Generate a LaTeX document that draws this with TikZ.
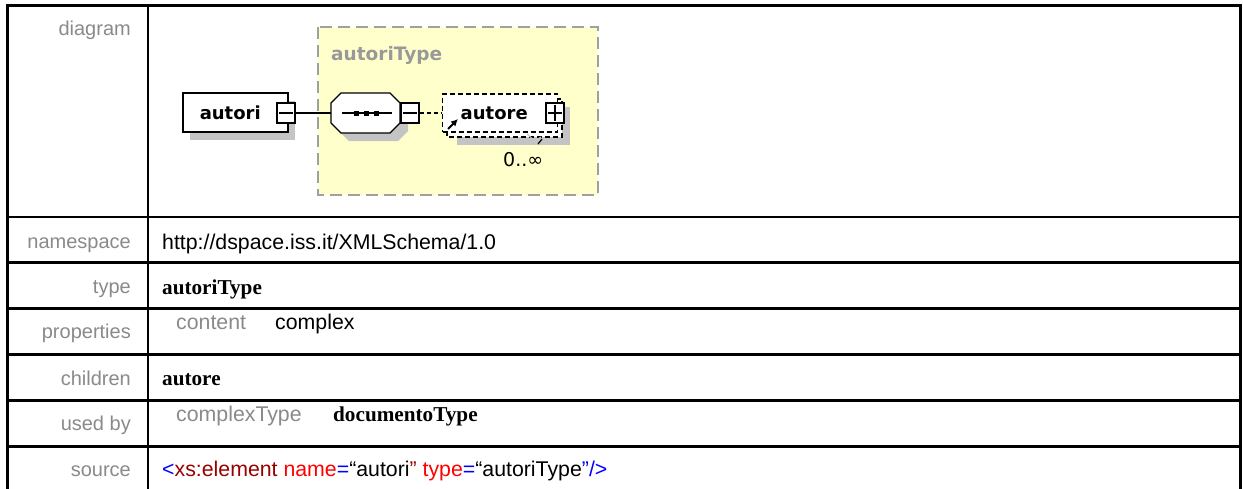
\documentclass[tikz,border=0pt]{standalone}
\usepackage{fontspec}
\setmainfont{Liberation Sans}
\newfontfamily\serifface{Liberation Serif}
\newfontfamily\dvface{DejaVu Sans}
\usetikzlibrary{arrows.meta}

\definecolor{labelgray}{HTML}{8A8A8A}
\definecolor{typegray}{HTML}{999999}
\definecolor{typeyellow}{HTML}{FFFFCC}
\definecolor{dashgray}{HTML}{A0A0A0}
\definecolor{shadowgray}{HTML}{C4C4C4}
\definecolor{srcblue}{HTML}{0000FF}
\definecolor{srcdark}{HTML}{990000}
\definecolor{srcred}{HTML}{FF0000}

\tikzset{
  tbl/.style={line width=2.5pt, line cap=rect},
  lbl/.style={anchor=base east, inner sep=0pt, text=labelgray, font=\fontsize{20}{24}\selectfont},
  val/.style={anchor=base west, inner sep=0pt, font=\fontsize{21.3}{25}\selectfont},
  bval/.style={anchor=base west, inner sep=0pt, font=\serifface\bfseries\fontsize{21.2}{25}\selectfont},
  pval/.style={anchor=base west, inner sep=0pt, text=labelgray, font=\fontsize{21.3}{25}\selectfont},
  elem/.style={draw, fill=white, line width=1.5pt, anchor=west, inner xsep=0pt, inner ysep=0pt,
    align=left, font=\dvface\bfseries\fontsize{18}{20}\selectfont},
  pmbox/.style={draw, fill=white, line width=1.4pt, minimum width=18pt, minimum height=20pt, inner sep=0pt},
  shadow/.style={fill=shadowgray, draw=none},
  conn/.style={line width=1.4pt},
  dconn/.style={line width=1.4pt, dash pattern=on 4pt off 3pt},
  dbox/.style={draw, fill=white, line width=1.4pt, dash pattern=on 5pt off 3pt}
}

\begin{document}
\begin{tikzpicture}[x=1pt, y=-1pt]
\useasboundingbox (0,0) rectangle (1243,488);
\fill[white] (0,0) rectangle (1243,488);

% ---- table frame ----
\draw[tbl] (7.5,488) -- (7.5,5.5) -- (1240.5,5.5) -- (1240.5,488);
\draw[tbl] (148,5.5) -- (148,488);
\foreach \yy in {217,262.5,308.5,354.5,400.5,446.5}
  \draw[tbl] (7.5,\yy) -- (1240.5,\yy);

% ---- row labels ----
\node[lbl] (l-diagram)    at (131,35)  {diagram};
\node[lbl] (l-namespace)  at (131,248) {namespace};
\node[lbl] (l-type)       at (131,293) {type};
\node[lbl] (l-properties) at (131,338) {properties};
\node[lbl] (l-children)   at (131,385) {children};
\node[lbl] (l-usedby)     at (131,430) {used by};
\node[lbl] (l-source)     at (131,476) {source};

% ---- row values ----
\node[val]  (v-namespace) at (162,249) {http://dspace.iss.it/XMLSchema/1.0};
\node[bval] (v-type)      at (162,294) {autoriType};
\node[pval] (v-content)   at (176,329) {content};
\node[val]  (v-complex)   at (275,329) {complex};
\node[bval] (v-children)  at (162,385) {autore};
\node[pval] (v-ctype)     at (176,421) {complexType};
\node[bval] (v-usedby)    at (333,421) {documentoType};
\node[val]  (v-source)    at (162,476) {\textcolor{srcblue}{<}\textcolor{srcdark}{xs:element} \textcolor{srcred}{name}\textcolor{srcblue}{=}“autori\textcolor{srcdark}{”} \textcolor{srcred}{type}\textcolor{srcblue}{=}“autoriType\textcolor{srcblue}{”/>}};

% ---- complex type area ----
\draw[fill=typeyellow, draw=dashgray, line width=2pt, dash pattern=on 12pt off 6pt]
  (318,27) rectangle (598,195);
\node[anchor=base west, inner sep=0pt, text=typegray, font=\dvface\bfseries\fontsize{18.5}{20}\selectfont]
  (typename) at (331,60) {autoriType};

% ---- element autori ----
\fill[shadow] (190,101) rectangle (295,140);
\node[elem, text width=105pt, minimum height=39pt] (autori) at (182,112.5) {\hspace*{17pt}autori};
\node[pmbox] (autori-m) at (286,113) {};
\draw[conn] ([xshift=3pt]autori-m.west) -- ([xshift=-3pt]autori-m.east);

% ---- sequence compositor ----
\fill[shadow] (349,101) -- (398,101) -- (408,111) -- (408,131) -- (398,141) -- (349,141) -- (339,131) -- (339,111) -- cycle;
\draw[fill=white, line width=1.4pt] (341,93) -- (390,93) -- (400,103) -- (400,123) -- (390,133) -- (341,133) -- (331,123) -- (331,103) -- cycle;
\node[minimum width=69pt, minimum height=40pt, inner sep=0pt] (seq) at (365.5,113) {};
\draw[conn] (342,113) -- (392,113);
\foreach \dx in {356,366,376}
  \fill (\dx-2.5,110.5) rectangle (\dx+2.5,115.5);
\node[pmbox] (seq-m) at (410,113) {};
\draw[conn] ([xshift=3pt]seq-m.west) -- ([xshift=-3pt]seq-m.east);

\draw[conn] (autori-m.east) -- (seq.west);

% ---- element autore (0..unbounded) ----
\fill[shadow] (457,107) rectangle (570,145);
\draw[dbox] (447,99) rectangle (562,137);
\node[elem, dbox, text width=115pt, minimum height=38pt] (autore) at (442,113) {\hspace*{18pt}autore};
\draw[-{Latex[length=7pt,width=7pt]}, line width=2pt] (448,129) -- (458,119);
\node[pmbox] (autore-p) at (555,113) {};
\draw[conn] ([xshift=3pt]autore-p.west) -- ([xshift=-3pt]autore-p.east);
\draw[conn] ([yshift=-3pt]autore-p.north) -- ([yshift=3pt]autore-p.south);

\draw[dconn] (seq-m.east) -- (autore.west);

% cardinality marker
\draw[line width=1pt, gray!45] (527,134) -- (535,141) -- (541,137);
\draw[line width=1.2pt] (538,144) -- (542,139);
\node[anchor=base west, inner sep=0pt, font=\dvface\fontsize{19}{21}\selectfont] (card) at (503,166) {0..∞};
\end{tikzpicture}
\end{document}
